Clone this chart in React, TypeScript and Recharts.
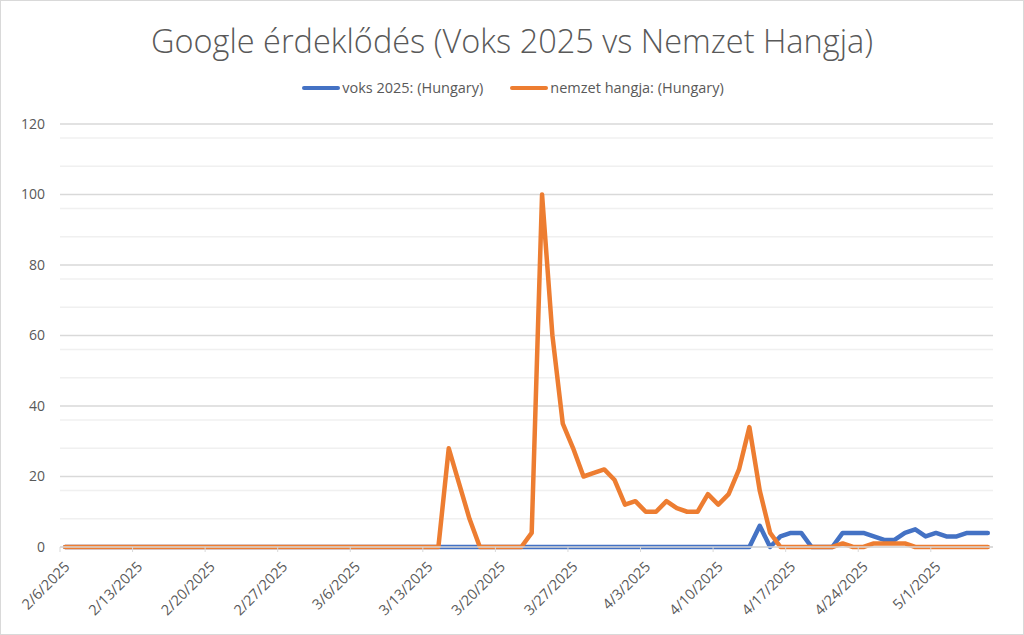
import React from "react";
import { LineChart, Line, XAxis, YAxis, CartesianGrid } from "recharts";

const startDate = new Date(2025, 1, 6);
const dayCount = 90;

const voksValues = [
  0, 0, 0, 0, 0, 0, 0, 0, 0, 0,
  0, 0, 0, 0, 0, 0, 0, 0, 0, 0,
  0, 0, 0, 0, 0, 0, 0, 0, 0, 0,
  0, 0, 0, 0, 0, 0, 0, 0, 0, 0,
  0, 0, 0, 0, 0, 0, 0, 0, 0, 0,
  0, 0, 0, 0, 0, 0, 0, 0, 0, 0,
  0, 0, 0, 0, 0, 0, 0, 6, 0, 3,
  4, 4, 0, 0, 0, 4, 4, 4, 3, 2,
  2, 4, 5, 3, 4, 3, 3, 4, 4, 4,
];

const nemzetValues = [
  0, 0, 0, 0, 0, 0, 0, 0, 0, 0,
  0, 0, 0, 0, 0, 0, 0, 0, 0, 0,
  0, 0, 0, 0, 0, 0, 0, 0, 0, 0,
  0, 0, 0, 0, 0, 0, 0, 28, 18, 8,
  0, 0, 0, 0, 0, 4, 100, 60, 35, 28,
  20, 21, 22, 19, 12, 13, 10, 10, 13, 11,
  10, 10, 15, 12, 15, 22, 34, 16, 4, 0,
  0, 0, 0, 0, 0, 1, 0, 0, 1, 1,
  1, 1, 0, 0, 0, 0, 0, 0, 0, 0,
];

const tickPositions = [0, 7, 14, 21, 28, 35, 42, 49, 56, 63, 70, 77, 84];
const tickLabels = [
  "2/6/2025", "2/13/2025", "2/20/2025", "2/27/2025", "3/6/2025", "3/13/2025",
  "3/20/2025", "3/27/2025", "4/3/2025", "4/10/2025", "4/17/2025", "4/24/2025", "5/1/2025",
];
const yTicks = [0, 20, 40, 60, 80, 100, 120];
const yMinor = [4, 8, 12, 16, 24, 28, 32, 36, 44, 48, 52, 56, 64, 68, 72, 76, 84, 88, 92, 96, 104, 108, 112, 116];

const series = [
  { key: "voks", name: "voks 2025: (Hungary)", color: "#4472C4", values: voksValues },
  { key: "nemzet", name: "nemzet hangja: (Hungary)", color: "#ED7D31", values: nemzetValues },
];

const data = Array.from({ length: dayCount }, (_, i) => {
  const d = new Date(startDate.getTime());
  d.setDate(d.getDate() + i);
  const row: any = { x: i + 0.5, date: `${d.getMonth() + 1}/${d.getDate()}/${d.getFullYear()}` };
  series.forEach((s) => (row[s.key] = s.values[i]));
  return row;
});

const FONT = "'Open Sans', 'Noto Sans', sans-serif";
const GRAY = "#595959";

const XTick = (props: any) => {
  const { x, y, payload } = props;
  const idx = tickPositions.indexOf(payload.value);
  const label = idx >= 0 ? tickLabels[idx] : "";
  return (
    <g transform={`translate(${x + 8},${y + 11})`}>
      <text
        transform="rotate(-45)"
        textAnchor="end"
        dominantBaseline="middle"
        fill={GRAY}
        fontSize={14.5}
        fontFamily={FONT}
      >
        {label}
      </text>
    </g>
  );
};

export default function App() {
  return (
    <div
      style={{
        position: "absolute",
        left: 0,
        top: 0,
        width: 1024,
        height: 635,
        background: "#fff",
        border: "1px solid #d9d9d9",
        boxSizing: "border-box",
        fontFamily: FONT,
      }}
    >
      <div
        style={{
          position: "absolute",
          top: 18,
          left: 0,
          width: 1022,
          textAlign: "center",
          fontSize: 32.5,
          fontWeight: 300,
          color: GRAY,
          lineHeight: "44px",
        }}
      >
        Google érdeklődés (Voks 2025 vs Nemzet Hangja)
      </div>
      <div
        style={{
          position: "absolute",
          top: 77,
          left: 0,
          width: 1024,
          display: "flex",
          justifyContent: "center",
          gap: 27,
          fontSize: 14.5,
          color: GRAY,
          lineHeight: "20px",
        }}
      >
        {series.map((s) => (
          <div key={s.key} style={{ display: "flex", alignItems: "center" }}>
            <span
              style={{
                display: "inline-block",
                width: 38,
                height: 4.5,
                borderRadius: 2,
                background: s.color,
                marginRight: 2,
              }}
            />
            <span>{s.name}</span>
          </div>
        ))}
      </div>
      <div style={{ position: "absolute", left: -1, top: -1 }}>
        <LineChart
          width={1024}
          height={635}
          data={data}
          margin={{ top: 124, right: 31, left: 20, bottom: 28 }}
        >
          <CartesianGrid
            vertical={false}
            horizontalValues={yMinor}
            stroke="#f0f0f0"
            strokeWidth={1.5}
          />
          <CartesianGrid
            vertical={false}
            horizontalValues={yTicks}
            stroke="#d9d9d9"
            strokeWidth={1.5}
          />
          <XAxis
            dataKey="x"
            type="number"
            domain={[0, 90]}
            ticks={tickPositions}
            interval={0}
            tick={<XTick />}
            tickSize={5}
            height={60}
            axisLine={{ stroke: "#d9d9d9", strokeWidth: 1.5 }}
            tickLine={{ stroke: "#d9d9d9" }}
            allowDecimals={false}
          />
          <YAxis
            domain={[0, 120]}
            ticks={yTicks}
            width={40}
            axisLine={false}
            tickLine={false}
            tickSize={0}
            tickMargin={15}
            tick={{ fill: GRAY, fontSize: 14, fontFamily: FONT }}
          />
          {series.map((s) => (
            <Line
              key={s.key}
              type="linear"
              dataKey={s.key}
              name={s.name}
              stroke={s.color}
              strokeWidth={4.5}
              dot={false}
              activeDot={false}
              strokeLinejoin="round"
              strokeLinecap="round"
              isAnimationActive={false}
            />
          ))}
        </LineChart>
      </div>
    </div>
  );
}
